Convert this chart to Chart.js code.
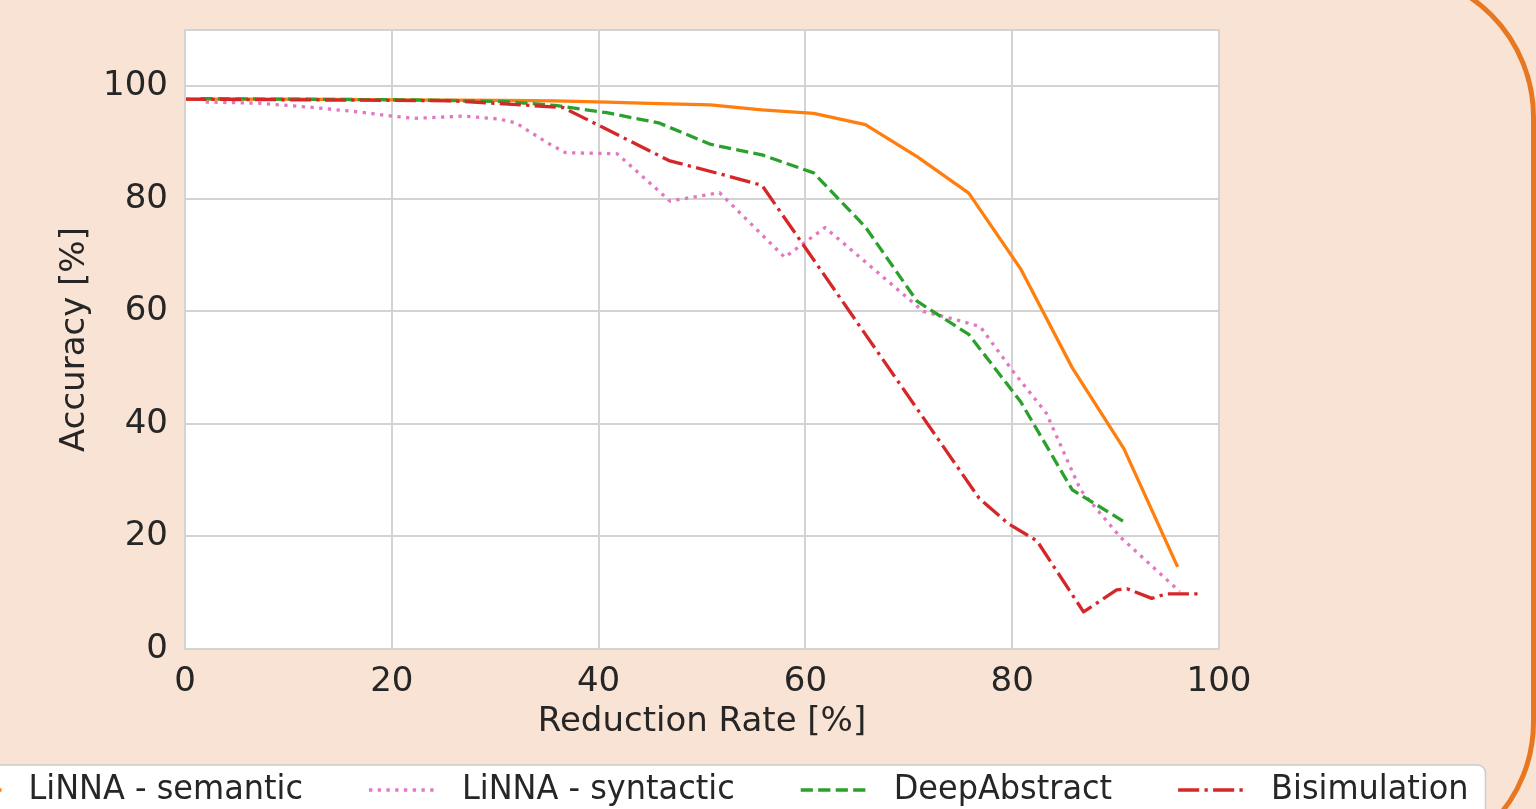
<!DOCTYPE html>
<html>
<head>
<meta charset="utf-8">
<script src="https://cdn.jsdelivr.net/npm/chart.js@4.4.0/dist/chart.umd.min.js"></script>
<style>
html,body{margin:0;padding:0;width:1536px;height:809px;overflow:hidden;background:#f8e3d4;}
#frame{position:absolute;left:-200px;top:-30px;width:1736px;height:899px;box-sizing:border-box;border:5px solid #e87722;border-radius:147px;}
#wrap{position:absolute;left:0;top:0;width:1536px;height:809px;}
</style>
</head>
<body>
<div id="frame"></div>
<div id="wrap"><canvas id="chart"></canvas></div>
<script>
// --- Date ---
const seriesNames = ['LiNNA - semantic', 'LiNNA - syntactic', 'DeepAbstract', 'Bisimulation'];

const xSemantic = [0, 10.8, 20.8, 30.8, 35.8, 40.8, 45.8, 50.8, 55.8, 60.8, 65.8, 70.8, 75.8, 80.8, 85.8, 90.8, 96.0];
const ySemantic = [97.7, 97.7, 97.6, 97.5, 97.4, 97.2, 96.9, 96.7, 95.8, 95.2, 93.2, 87.5, 81.0, 67.6, 50.0, 35.6, 14.6];

const xSyntactic = [2.0, 7.0, 12.0, 17.0, 20.0, 22.2, 27.0, 30.3, 32.0, 35.0, 36.8, 41.8, 46.9, 51.7, 58.0, 61.9, 71.4, 74.6, 76.9, 80.1, 83.3, 86.6, 90.4, 96.2];
const ySyntactic = [97.2, 97.0, 96.3, 95.4, 94.7, 94.3, 94.7, 94.2, 93.5, 90.0, 88.2, 88.0, 79.6, 81.1, 69.6, 74.9, 60.0, 58.5, 57.3, 49.3, 41.9, 28.3, 20.0, 10.2];

const xDeep = [1.5, 10.8, 20.8, 30.8, 35.8, 40.8, 45.8, 50.8, 55.8, 60.8, 65.8, 70.8, 75.8, 80.8, 85.8, 91.0];
const yDeep = [97.8, 97.7, 97.6, 97.3, 96.6, 95.3, 93.5, 89.7, 87.8, 84.6, 75.0, 61.8, 55.9, 44.0, 28.3, 22.4];

const xBisim = [0, 10, 20, 26, 31.7, 36.6, 46.8, 51.8, 55.8, 76.8, 79.6, 82.4, 86.9, 90.1, 91.1, 93.5, 94.9, 98.2];
const yBisim = [97.7, 97.6, 97.5, 97.4, 96.8, 96.2, 86.8, 84.4, 82.4, 26.8, 22.3, 19.2, 6.6, 10.5, 10.7, 9.0, 9.8, 9.8];

const xTickValues = [0, 20, 40, 60, 80, 100];
const yTickValues = [0, 20, 40, 60, 80, 100];

// --- Stil ---
const LW = 3.3;
const textColor = '#262626';
const gridColor = '#d3d3d3';
Chart.defaults.font.family = '"DejaVu Sans", sans-serif';

function pts(xs, ys){ return xs.map((x,i)=>({x:x, y:ys[i]})); }

const datasets = [
  {label:seriesNames[0], data:pts(xSemantic,ySemantic), borderColor:'#ff7f0e', borderDash:[], order:4},
  {label:seriesNames[1], data:pts(xSyntactic,ySyntactic), borderColor:'#e377c2', borderDash:[1*LW,1.65*LW], order:3},
  {label:seriesNames[2], data:pts(xDeep,yDeep), borderColor:'#2ca02c', borderDash:[3.7*LW,1.6*LW], order:2},
  {label:seriesNames[3], data:pts(xBisim,yBisim), borderColor:'#d62728', borderDash:[6.4*LW,1.6*LW,1*LW,1.6*LW], order:1}
].map(d=>Object.assign(d,{borderWidth:LW, pointRadius:0, tension:0, fill:false, borderCapStyle:'butt', borderJoinStyle:'round'}));

// --- Fundal, chenar si legenda ---
const decorPlugin = {
  id:'decor',
  beforeDraw(chart){
    const {ctx, chartArea:a} = chart;
    ctx.save();
    ctx.fillStyle = '#ffffff';
    ctx.fillRect(a.left, a.top, a.right-a.left, a.bottom-a.top);
    ctx.restore();
  },
  afterDatasetsDraw(chart){
    const {ctx, chartArea:a} = chart;
    ctx.save();
    ctx.strokeStyle = gridColor;
    ctx.lineWidth = 2;
    ctx.strokeRect(a.left, a.top, a.right-a.left, a.bottom-a.top);
    ctx.restore();
  },
  afterDraw(chart){
    const {ctx, chartArea:a} = chart;
    const sx = 0.94, sample = 66, gapIn = 27, gapOut = 66, y = 790;
    ctx.save();
    ctx.font = '34px "DejaVu Sans"';
    const widths = seriesNames.map(n=>ctx.measureText(n).width*sx);
    const total = widths.reduce((s,w)=>s+w,0) + 4*(sample+gapIn) + 3*gapOut;
    let x = (a.left+a.right)/2 - total/2;
    // cutie legenda
    ctx.beginPath();
    ctx.roundRect(x-17, 765, total+34, 70, 8);
    ctx.fillStyle = '#ffffff';
    ctx.fill();
    ctx.strokeStyle = '#cccccc';
    ctx.lineWidth = 1.5;
    ctx.stroke();
    chart.data.datasets.forEach((d,i)=>{
      ctx.beginPath();
      ctx.setLineDash(d.borderDash);
      ctx.lineCap = 'butt';
      ctx.strokeStyle = d.borderColor;
      ctx.lineWidth = LW;
      ctx.moveTo(x, y); ctx.lineTo(x+sample, y);
      ctx.stroke();
      ctx.setLineDash([]);
      x += sample + gapIn;
      ctx.save();
      ctx.translate(x, y);
      ctx.scale(sx, 1);
      ctx.fillStyle = textColor;
      ctx.textBaseline = 'middle';
      ctx.fillText(seriesNames[i], 0, 0);
      ctx.restore();
      x += widths[i] + gapOut;
    });
    ctx.restore();
  }
};

new Chart(document.getElementById('chart'), {
  type:'line',
  data:{datasets:datasets},
  plugins:[decorPlugin],
  options:{
    responsive:true,
    maintainAspectRatio:false,
    animation:false,
    events:[],
    layout:{padding:{top:30, right:317, bottom:0, left:0}},
    plugins:{legend:{display:false}, tooltip:{enabled:false}},
    scales:{
      x:{
        type:'linear', min:0, max:100,
        afterBuildTicks(s){ s.ticks = xTickValues.map(v=>({value:v})); },
        afterFit(s){ s.height = 160; },
        grid:{color:gridColor, lineWidth:2, drawTicks:false},
        border:{display:false},
        ticks:{color:textColor, font:{size:34}, padding:13, maxRotation:0},
        title:{display:true, text:'Reduction Rate [%]', color:textColor, font:{size:34}, padding:{top:0, bottom:66}}
      },
      y:{
        type:'linear', min:0, max:110,
        afterBuildTicks(s){ s.ticks = yTickValues.map(v=>({value:v})); },
        afterFit(s){ s.width = 185; s.paddingTop = 0; s.paddingBottom = 0; },
        grid:{color:gridColor, lineWidth:2, drawTicks:false},
        border:{display:false},
        ticks:{color:textColor, font:{size:34}, padding:17},
        title:{display:true, text:'Accuracy [%]', color:textColor, font:{size:34}, padding:{top:55, bottom:0}}
      }
    }
  }
});
</script>
</body>
</html>
